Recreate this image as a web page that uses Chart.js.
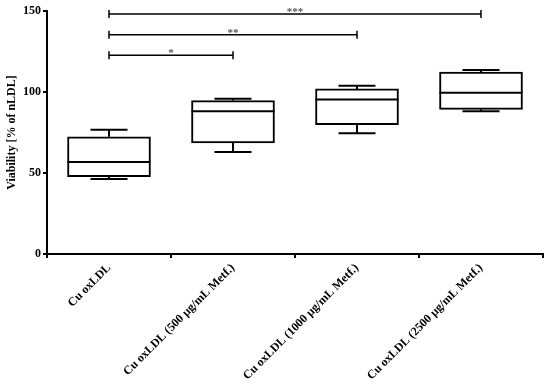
<!DOCTYPE html>
<html>
<head>
<meta charset="utf-8">
<script src="https://cdn.jsdelivr.net/npm/chart.js@4.4.1/dist/chart.umd.min.js"></script>
<style>
  html, body { margin: 0; background: #fff; }
  #wrap { width: 550px; height: 384px; }
</style>
</head>
<body>
<div id="wrap"><canvas id="chart"></canvas></div>
<script>
// --- Data ---
const groups = [
  "Cu oxLDL",
  "Cu oxLDL (500 µg/mL Metf.)",
  "Cu oxLDL (1000 µg/mL Metf.)",
  "Cu oxLDL (2500 µg/mL Metf.)"
];
const whiskerLow  = [46.3, 63.0, 74.5, 88.1];
const q1          = [47.7, 68.5, 79.8, 89.3];
const medians     = [56.8, 88.1, 95.3, 99.6];
const q3          = [72.4, 94.7, 101.9, 112.3];
const whiskerHigh = [76.7, 95.9, 103.9, 113.6];
const yTicks = [0, 50, 100, 150];

// significance brackets
const bracketFrom  = [0, 0, 0];
const bracketTo    = [1, 2, 3];
const bracketLevel = [122.7, 135.4, 148.1];
const bracketStars = ["*", "**", "***"];

// --- Chart ---
Chart.defaults.font.family = "'Liberation Serif', 'Times New Roman', serif";
Chart.defaults.font.weight = "bold";
Chart.defaults.font.size = 12;
Chart.defaults.color = "#000";

const boxExtras = {
  id: 'boxExtras',
  afterDatasetsDraw(chart){
    const {ctx, scales:{x, y}} = chart;
    const meta = chart.getDatasetMeta(0);
    ctx.save();
    ctx.strokeStyle = '#000';
    ctx.lineWidth = 2;
    groups.forEach((g,i)=>{
      const cx = x.getPixelForValue(i);
      const half = meta.data[i].width/2;
      const capHalf = 18.5;
      const line = (x1,y1,x2,y2)=>{ ctx.beginPath(); ctx.moveTo(x1,y1); ctx.lineTo(x2,y2); ctx.stroke(); };
      // median
      line(cx-half, y.getPixelForValue(medians[i]), cx+half, y.getPixelForValue(medians[i]));
      // whiskers
      line(cx, y.getPixelForValue(q3[i]), cx, y.getPixelForValue(whiskerHigh[i]));
      line(cx, y.getPixelForValue(q1[i]), cx, y.getPixelForValue(whiskerLow[i]));
      line(cx-capHalf, y.getPixelForValue(whiskerHigh[i]), cx+capHalf, y.getPixelForValue(whiskerHigh[i]));
      line(cx-capHalf, y.getPixelForValue(whiskerLow[i]), cx+capHalf, y.getPixelForValue(whiskerLow[i]));
    });
    // brackets
    ctx.lineWidth = 1.5;
    bracketLevel.forEach((lv,i)=>{
      const x1 = x.getPixelForValue(bracketFrom[i]);
      const x2 = x.getPixelForValue(bracketTo[i]);
      const py = y.getPixelForValue(lv);
      ctx.beginPath();
      ctx.moveTo(x1,py); ctx.lineTo(x2,py);
      ctx.moveTo(x1,py-4); ctx.lineTo(x1,py+4);
      ctx.moveTo(x2,py-4); ctx.lineTo(x2,py+4);
      ctx.stroke();
      ctx.fillStyle = '#555';
      ctx.font = "bold 11px 'Liberation Serif'";
      ctx.textAlign = 'center';
      ctx.textBaseline = 'alphabetic';
      ctx.fillText(bracketStars[i], (x1+x2)/2, py+1);
    });
    ctx.restore();
  }
};

new Chart(document.getElementById('chart'), {
  type: 'bar',
  data: {
    labels: groups,
    datasets: [{
      data: groups.map((g,i)=>[q1[i], q3[i]]),
      backgroundColor: '#fff',
      borderColor: '#000',
      borderWidth: 2,
      borderSkipped: false,
      barThickness: 83
    }]
  },
  options: {
    responsive: true,
    maintainAspectRatio: false,
    animation: false,
    layout: { padding: { top: 11, right: 7, left: 0, bottom: 0 } },
    plugins: { legend: { display: false }, tooltip: { enabled: false } },
    scales: {
      x: {
        grid: { drawOnChartArea: false, drawTicks: true, tickLength: 4, color: '#000', lineWidth: 2 },
        border: { color: '#000', width: 2 },
        ticks: { maxRotation: 45, minRotation: 45, padding: 3 },
        afterFit(axis){ axis.height = 130; }
      },
      y: {
        min: 0, max: 150,
        grid: { drawOnChartArea: false, drawTicks: true, tickLength: 4, color: '#000', lineWidth: 2 },
        border: { color: '#000', width: 2 },
        ticks: { padding: 2 },
        afterBuildTicks(axis){ axis.ticks = yTicks.map(v=>({value:v})); },
        title: { display: true, text: 'Viability [% of nLDL]', padding: { top: 5, bottom: 0 } },
        afterFit(axis){ axis.width = 47; }
      }
    }
  },
  plugins: [boxExtras]
});
</script>
</body>
</html>
